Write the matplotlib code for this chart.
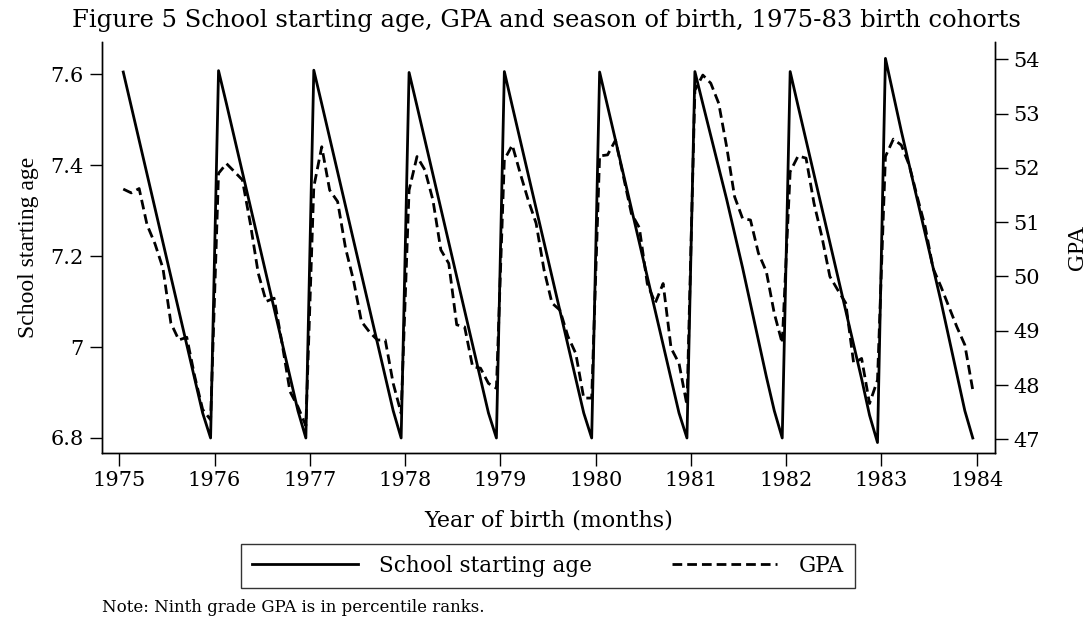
import numpy as np
import matplotlib
matplotlib.use("Agg")
import matplotlib.pyplot as plt

plt.rcParams['font.family'] = 'DejaVu Serif'

years = [1975, 1976, 1977, 1978, 1979, 1980, 1981, 1982, 1983]

# school starting age, Jan..Dec for each birth year
ssa = [
    [7.605, 7.530, 7.455, 7.380, 7.305, 7.230, 7.155, 7.080, 7.005, 6.930, 6.855, 6.800],
    [7.608, 7.535, 7.460, 7.385, 7.310, 7.235, 7.160, 7.085, 7.010, 6.935, 6.860, 6.800],
    [7.609, 7.535, 7.460, 7.385, 7.310, 7.235, 7.160, 7.085, 7.010, 6.935, 6.860, 6.800],
    [7.604, 7.530, 7.455, 7.380, 7.305, 7.230, 7.155, 7.080, 7.005, 6.930, 6.855, 6.800],
    [7.606, 7.530, 7.455, 7.380, 7.305, 7.230, 7.155, 7.080, 7.005, 6.930, 6.855, 6.800],
    [7.605, 7.530, 7.455, 7.380, 7.305, 7.230, 7.155, 7.080, 7.005, 6.930, 6.855, 6.800],
    [7.606, 7.535, 7.465, 7.395, 7.325, 7.250, 7.175, 7.095, 7.015, 6.935, 6.860, 6.800],
    [7.606, 7.530, 7.455, 7.380, 7.305, 7.230, 7.155, 7.080, 7.005, 6.930, 6.850, 6.790],
    [7.635, 7.555, 7.475, 7.400, 7.325, 7.250, 7.175, 7.100, 7.020, 6.940, 6.860, 6.800],
]

# ninth grade GPA (percentile rank), Jan..Dec for each birth year
gpa = [
    [51.61, 51.54, 51.62, 50.95, 50.60, 50.15, 49.14, 48.83, 48.88, 48.16, 47.55, 47.36],
    [51.90, 52.08, 51.93, 51.78, 50.98, 50.06, 49.54, 49.60, 48.77, 47.88, 47.60, 47.25],
    [51.65, 52.39, 51.59, 51.38, 50.52, 49.93, 49.17, 48.98, 48.83, 48.83, 48.03, 47.48],
    [51.59, 52.21, 51.96, 51.41, 50.49, 50.24, 49.11, 49.07, 48.34, 48.31, 48.03, 47.94],
    [52.15, 52.42, 51.90, 51.41, 50.98, 50.12, 49.51, 49.38, 48.90, 48.58, 47.76, 47.76],
    [52.22, 52.24, 52.51, 51.84, 51.16, 50.90, 49.87, 49.51, 49.87, 48.68, 48.40, 47.63],
    [53.43, 53.71, 53.56, 53.19, 52.39, 51.47, 51.07, 51.04, 50.43, 50.09, 49.32, 48.77],
    [51.93, 52.22, 52.18, 51.35, 50.73, 50.00, 49.75, 49.51, 48.40, 48.49, 47.66, 48.09],
    [52.21, 52.53, 52.42, 52.05, 51.47, 50.92, 50.15, 49.81, 49.44, 49.07, 48.74, 47.91],
]

# monthly positions, centred in each month
t = np.array([y + (m + 0.5) / 12 for y in years for m in range(12)])
ssa_all = np.concatenate(ssa)
gpa_all = np.concatenate(gpa)

fig = plt.figure(figsize=(10.92, 6.17), dpi=100)
ax = fig.add_axes([0.0931, 0.2658, 0.8181, 0.6661])
ax2 = ax.twinx()

l1, = ax.plot(t, ssa_all, color="black", lw=2.0, label="School starting age")
l2, = ax2.plot(t, gpa_all, color="black", lw=2.0, linestyle=(0, (3.5, 1.8)), label="GPA")

ax.set_xlim(1974.815, 1984.192)
ax.set_ylim(6.767, 7.671)
ax2.set_ylim(46.748, 54.319)

ax.set_xticks(range(1975, 1985))
ax.set_yticks([6.8, 7.0, 7.2, 7.4, 7.6])
ax.set_yticklabels(["6.8", "7", "7.2", "7.4", "7.6"])
ax2.set_yticks(range(47, 55))

for a in (ax, ax2):
    a.spines['top'].set_visible(False)
    for s in a.spines.values():
        s.set_linewidth(1.0)
    a.tick_params(length=9, width=1.0, labelsize=15, pad=4)

ax.set_xlabel("Year of birth (months)", fontsize=16, labelpad=14)
ax.set_ylabel("School starting age", fontsize=17, family="Liberation Serif", labelpad=8)
ax2.set_ylabel("GPA", fontsize=17, family="Liberation Serif", rotation=90, labelpad=20)

fig.text(0.5, 1 - 21 / 617, "Figure 5 School starting age, GPA and season of birth, 1975-83 birth cohorts",
         ha="center", va="center", fontsize=17.5)

leg = fig.legend(handles=[l1, l2], loc="center", bbox_to_anchor=(548 / 1092, 1 - 566 / 617),
                 ncol=2, fontsize=15.5, frameon=True, fancybox=False, handlelength=4.9,
                 handletextpad=1.0, columnspacing=3.7, borderpad=0.5)
leg.get_frame().set_edgecolor("black")
leg.get_frame().set_linewidth(1.0)

fig.text(102 / 1092, 1 - 607 / 617, "Note: Ninth grade GPA is in percentile ranks.",
         ha="left", va="center", fontsize=12)

fig.savefig("out.png", dpi=100)
